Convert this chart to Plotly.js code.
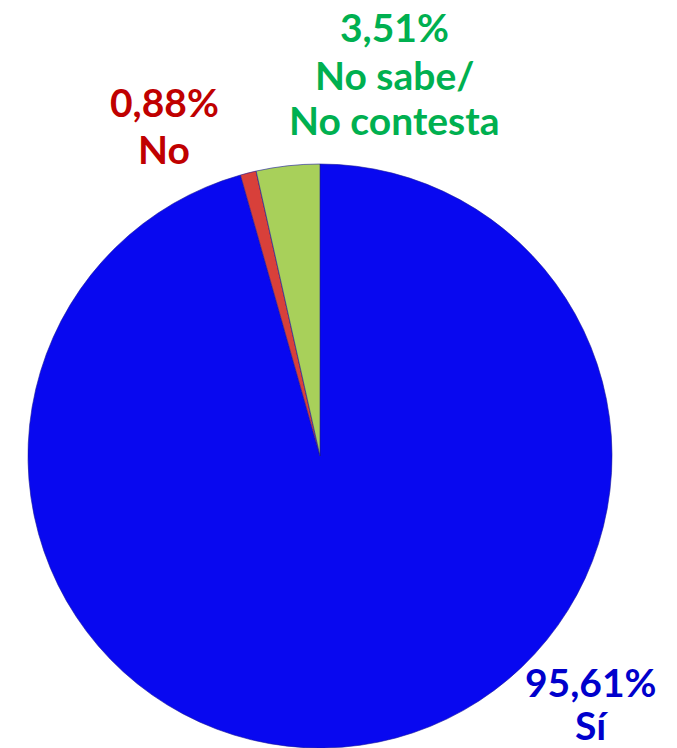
<!DOCTYPE html>
<html>
<head>
<meta charset="utf-8">
<script src="https://cdn.plot.ly/plotly-3.0.1.min.js"></script>
<style>
html,body{margin:0;padding:0;overflow:hidden;background:#fff;}
#chart{width:677px;height:748px;}
</style>
</head>
<body>
<div id="chart"></div>
<script>
const categories = ["Sí", "No", "No sabe/<br>No contesta"];
const values = [95.61, 0.88, 3.51];
const valueLabels = ["95,61%", "0,88%", "3,51%"];
const sliceColors = ["#0808F0", "#D8403A", "#A8D05A"];
const textColors = ["#0000CC", "#C00000", "#00B050"];

const W = 677, H = 748;
const px = x => x / W;
const py = y => 1 - y / H;
const FS = 39;

// label placement: text centre x and baseline y of each line (pixels)
const labelPos = [
  {x: 591, baselines: [695, 738]},
  {x: 164, baselines: [115, 162]},
  {x: 395, baselines: [40, 88, 133]}
];

const annotations = [];
categories.forEach((c, i) => {
  const lines = [valueLabels[i]].concat(c.split("<br>"));
  lines.forEach((t, j) => {
    annotations.push({
      text: t,
      x: px(labelPos[i].x), y: py(labelPos[i].baselines[j] - FS * 0.98),
      xref: "paper", yref: "paper",
      xanchor: "center", yanchor: "top",
      showarrow: false,
      font: {family: "Lato", size: FS, color: textColors[i], weight: "bold"}
    });
  });
});

const data = [{
  type: "pie",
  labels: categories,
  values: values,
  sort: false,
  direction: "clockwise",
  rotation: 0,
  textinfo: "none",
  hoverinfo: "label+percent",
  marker: {colors: sliceColors, line: {color: "#1a1a9a", width: 0.6}},
  domain: {x: [px(26), px(614)], y: [0, py(164)]}
}];

const layout = {
  width: W, height: H,
  margin: {l: 0, r: 0, t: 0, b: 0},
  showlegend: false,
  paper_bgcolor: "#ffffff",
  annotations: annotations
};

Plotly.newPlot("chart", data, layout, {displayModeBar: false, staticPlot: true});
</script>
</body>
</html>
